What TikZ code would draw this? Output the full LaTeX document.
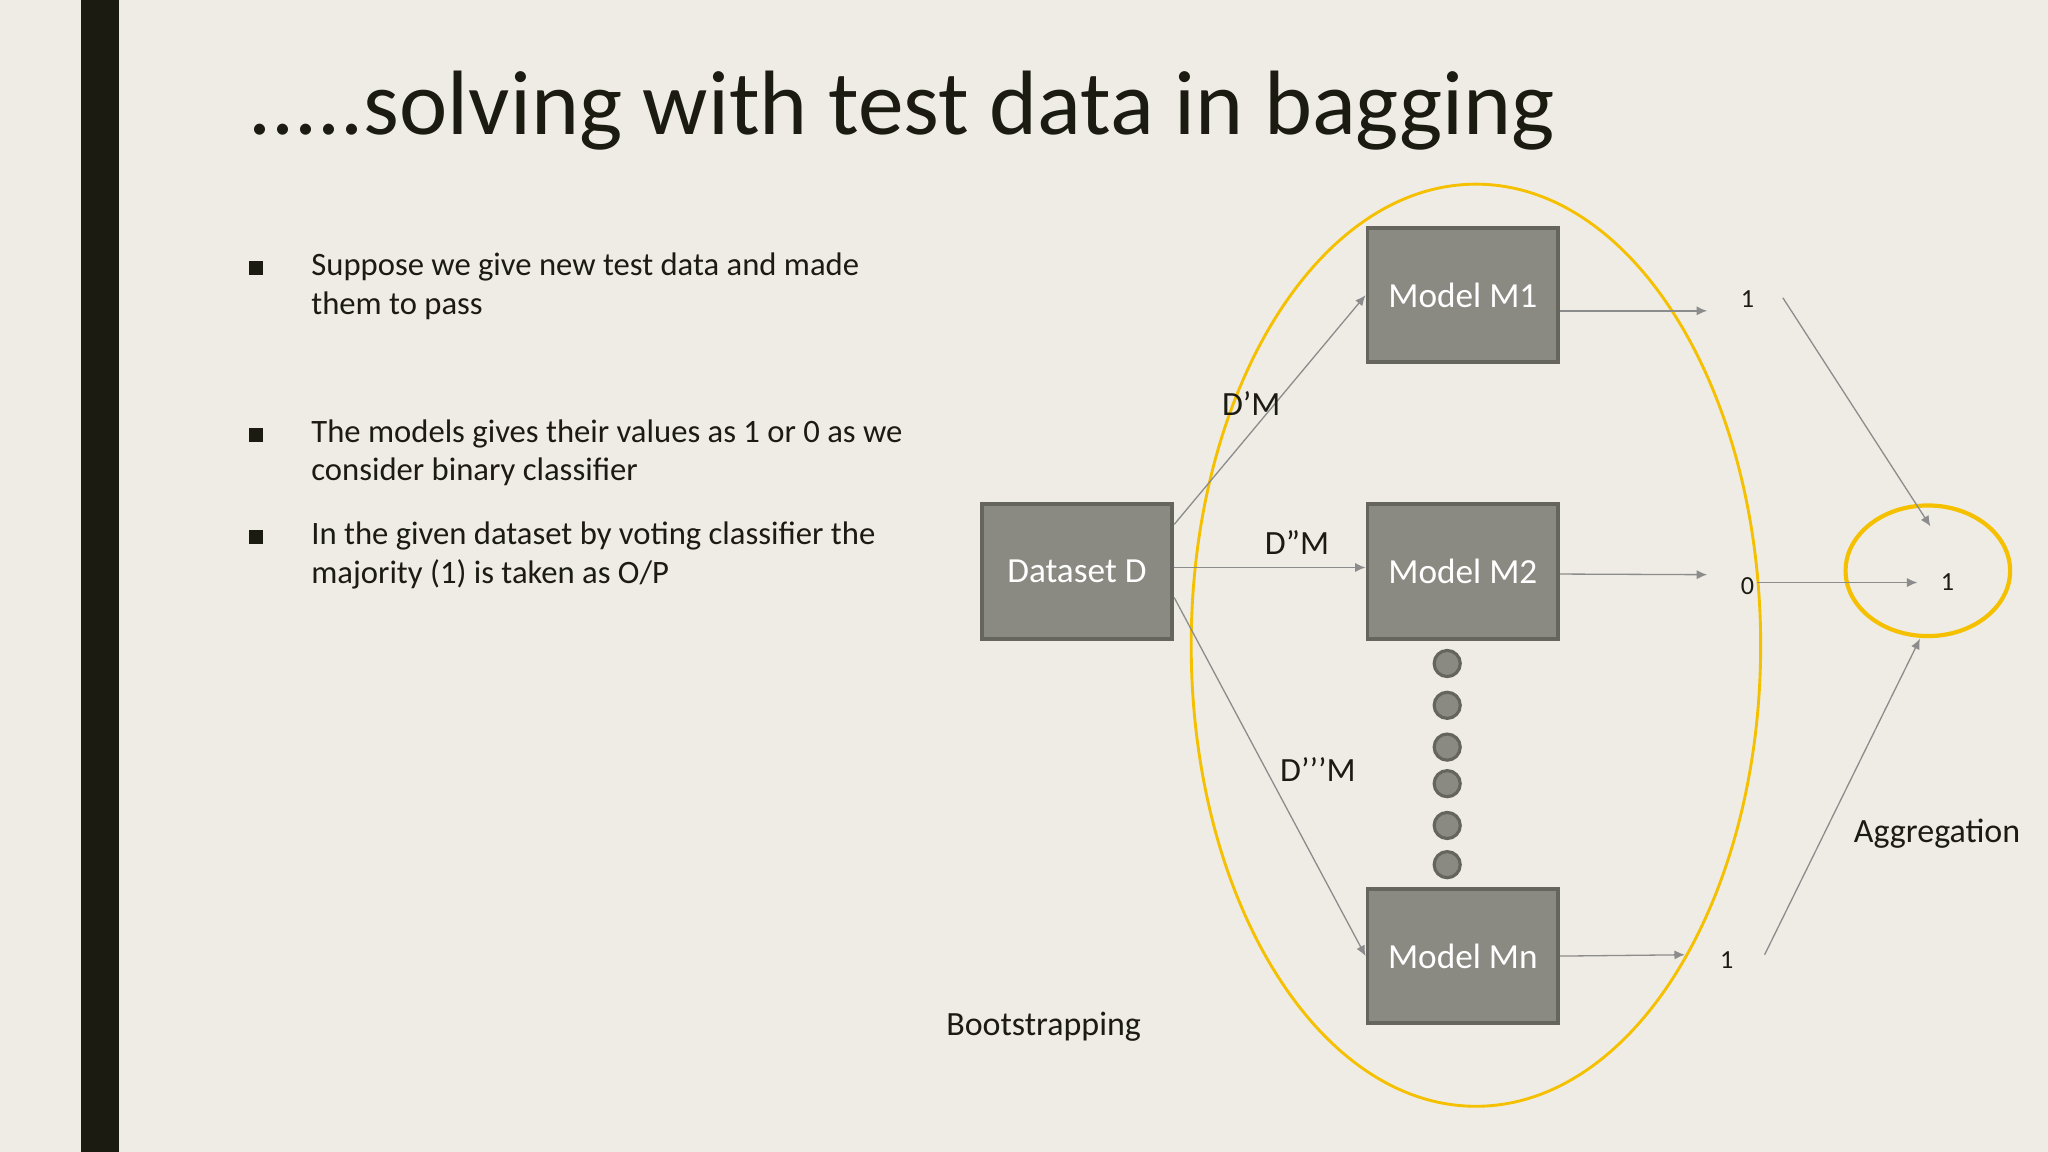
\documentclass[tikz,border=0pt]{standalone}
\usepackage{fontspec}
\setmainfont{Carlito}
\usetikzlibrary{arrows.meta}
\definecolor{bg}{HTML}{EEECE4}
\definecolor{bar}{HTML}{1C1B12}
\definecolor{boxf}{HTML}{8A8A82}
\definecolor{boxd}{HTML}{65655D}
\definecolor{yel}{HTML}{F5C000}
\definecolor{ln}{HTML}{8C8C8C}
\tikzset{
  mbox/.style={draw=boxd,line width=1.5pt,fill=boxf,minimum width=73pt,minimum height=51.5pt,inner sep=0pt,text=white,font=\fontsize{13.5}{16}\selectfont},
  conn/.style={draw=ln,line width=0.5pt,-{Latex[length=4pt,width=3.5pt]}},
  dotc/.style={circle,draw=boxd,line width=1.2pt,fill=boxf,minimum size=10pt,inner sep=0pt},
  body/.style={font=\fontsize{12.5}{15}\selectfont,text=bar,anchor=base west,inner sep=0pt},
  lab/.style={font=\fontsize{13}{15}\selectfont,text=bar,inner sep=0pt},
  num/.style={font=\fontsize{10}{12}\selectfont,text=bar,inner sep=0pt},
  bul/.style={fill=bar,minimum size=5.5pt,inner sep=0pt}
}
\begin{document}
\begin{tikzpicture}[x=0.5pt,y=-0.5pt]
\useasboundingbox (0,0) rectangle (1568,882);
\clip (0,0) rectangle (1568,882);
\fill[bg] (0,0) rectangle (1568,882);
\fill[bar] (62,0) rectangle (91,882);
\node[anchor=base west,inner sep=0pt,text=bar,font=\fontsize{35}{40}\selectfont] (title) at (190,103) {.....solving with test data in bagging};
% bullets
\node[bul] (b1) at (196,205) {};
\node[bul] (b2) at (196,333) {};
\node[bul] (b3) at (196,411) {};
\node[body] (t1a) at (238,211) {Suppose we give new test data and made};
\node[body] (t1b) at (238,241) {them to pass};
\node[body] (t2a) at (238,339) {The models gives their values as 1 or 0 as we};
\node[body] (t2b) at (238,368) {consider binary classifier};
\node[body] (t3a) at (238,417) {In the given dataset by voting classifier the};
\node[body] (t3b) at (238,447) {majority (1) is taken as O/P};
% ellipse
\draw[yel,line width=1.1pt] (1130,494) ellipse [x radius=218,y radius=353];
% boxes
\node[mbox] (D) at (824.5,437.5) {Dataset D};
\node[mbox] (M1) at (1120,226) {Model M1};
\node[mbox] (M2) at (1120,437.5) {Model M2};
\node[mbox] (Mn) at (1120,732) {Model Mn};
% dots
\foreach \y [count=\i] in {508,540,572,600,632,662} \node[dotc] (d\i) at (1108,\y) {};
% connectors
\draw[conn] (D.north east)++(0,17) coordinate (s1) -- (M1.west);
\draw[conn] (D.east)++(0,-3) coordinate (s2) -- (M2.west |- s2);
\draw[conn] (D.east)++(0,20) coordinate (s3) -- (Mn.west);
\node[lab] (l1) at (958,309) {D’M};
\node[lab] (l2) at (993,415) {D”M};
\node[lab] (l3) at (1009,589) {D’’’M};
% outputs
\coordinate (o1) at (1307,238);
\coordinate (o2) at (1307,440);
\coordinate (o3) at (1290,731);
\draw[conn] (M1.east)++(0,12) -- (o1);
\draw[conn] (M2.east)++(0,2) -- (o2);
\draw[conn] (Mn.east) -- (o3);
\node[num] (n1) at (1338,229) {1};
\node[num] (n2) at (1338,449) {0};
\node[num] (n3) at (1322,735) {1};
% aggregation
\draw[yel,line width=1.6pt] (1476,437) ellipse [x radius=63,y radius=50];
\node[num] (res) at (1491,446) {1};
\coordinate (a1) at (1365,228);
\coordinate (a2) at (1345,446);
\coordinate (a3) at (1351,731);
\draw[conn] (a1) -- (1478,403);
\draw[conn] (a2) -- (1468,446);
\draw[conn] (a3) -- (1470,489);
\node[lab,anchor=west] (agg) at (1419,638) {Aggregation};
\node[lab] (boot) at (799,786) {Bootstrapping};
\end{tikzpicture}
\end{document}
